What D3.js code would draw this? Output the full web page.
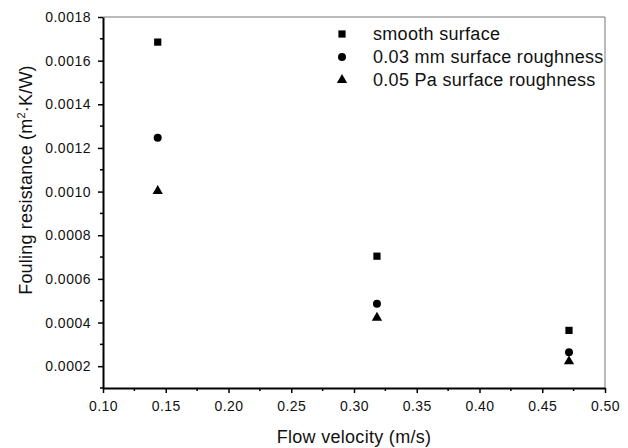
<!DOCTYPE html>
<html>
<head>
<meta charset="utf-8">
<script src="https://cdn.jsdelivr.net/npm/d3@7"></script>
<style>
  body { margin: 0; background: #fff; }
  text { font-family: "Liberation Sans", Arial, sans-serif; fill: #111; }
</style>
</head>
<body>
<script>
// flow velocity (m/s) for the three test runs
var velocity = [0.1436, 0.3183, 0.4713];

// fouling resistance (m2·K/W) per surface
var smooth = [0.001685, 0.000704, 0.000364];
var rough003 = [0.001247, 0.000486, 0.000264];
var rough005 = [0.001003, 0.000422, 0.000222];

var seriesNames = ["smooth surface", "0.03 mm surface roughness", "0.05 Pa surface roughness"];
var seriesSymbols = [d3.symbolSquare, d3.symbolCircle, d3.symbolTriangle];

var xTicks = [0.10, 0.15, 0.20, 0.25, 0.30, 0.35, 0.40, 0.45, 0.50];
var yTicks = [0.0002, 0.0004, 0.0006, 0.0008, 0.0010, 0.0012, 0.0014, 0.0016, 0.0018];

var width = 628, height = 448;
var margin = {top: 17, right: 23, bottom: 60, left: 103};

var svg = d3.select('body').append('svg')
    .attr('width', width)
    .attr('height', height);

var x = d3.scaleLinear().domain([0.10, 0.50]).range([margin.left, width - margin.right]);
var y = d3.scaleLinear().domain([0.0001, 0.0018]).range([height - margin.bottom, margin.top]);

// frame: top and right thin grey lines
svg.append('path')
    .attr('d', 'M' + x(0.10) + ',' + y(0.0018) + 'H' + x(0.50) + 'V' + y(0.0001))
    .attr('fill', 'none')
    .attr('stroke', '#777')
    .attr('stroke-width', 1);

// minor ticks
var xMinor = d3.range(0.125, 0.5, 0.05);
var yMinor = d3.range(0.0001, 0.0018, 0.0002);

var xAxis = svg.append('g')
    .attr('transform', 'translate(0,' + y(0.0001) + ')');
xAxis.selectAll('line.minor').data(xMinor).enter().append('line')
    .attr('x1', function(d) { return x(d); })
    .attr('x2', function(d) { return x(d); })
    .attr('y1', 0).attr('y2', 3)
    .attr('stroke', '#000').attr('stroke-width', 1.5);
xAxis.call(d3.axisBottom(x).tickValues(xTicks).tickFormat(d3.format('.2f')).tickSizeInner(5).tickSizeOuter(0).tickPadding(8));

var yAxis = svg.append('g')
    .attr('transform', 'translate(' + x(0.10) + ',0)');
yAxis.selectAll('line.minor').data(yMinor).enter().append('line')
    .attr('y1', function(d) { return y(d); })
    .attr('y2', function(d) { return y(d); })
    .attr('x1', 0).attr('x2', -3)
    .attr('stroke', '#000').attr('stroke-width', 1.5);
yAxis.call(d3.axisLeft(y).tickValues(yTicks).tickFormat(d3.format('.4f')).tickSizeInner(5).tickSizeOuter(0).tickPadding(7));

svg.selectAll('.domain').attr('stroke', '#000').attr('stroke-width', 2);
svg.selectAll('.tick line').attr('stroke', '#000').attr('stroke-width', 1.5);
svg.selectAll('.tick text')
    .attr('font-family', '"Liberation Sans", Arial, sans-serif')
    .style('font-size', '14px')
    .style('letter-spacing', '0.5px')
    .attr('fill', '#222');

// points
var allSeries = [smooth, rough003, rough005];
var sizes = [52, 50, 46];
allSeries.forEach(function(vals, i) {
  svg.append('g').selectAll('path')
      .data(vals).enter().append('path')
      .attr('transform', function(d, j) { return 'translate(' + x(velocity[j]) + ',' + y(d) + ')'; })
      .attr('d', d3.symbol().type(seriesSymbols[i]).size(sizes[i]))
      .attr('fill', '#000');
});

// legend
var legend = svg.append('g').attr('transform', 'translate(342,34)');
seriesNames.forEach(function(name, i) {
  var row = legend.append('g').attr('transform', 'translate(0,' + (i * 23) + ')');
  row.append('path')
      .attr('d', d3.symbol().type(seriesSymbols[i]).size(sizes[i]))
      .attr('fill', '#000');
  row.append('text')
      .attr('x', 31).attr('y', 6)
      .style('font-size', '18px')
      .style('letter-spacing', '0.3px')
      .text(name);
});

// axis titles
svg.append('text')
    .attr('x', (x(0.10) + x(0.50)) / 2)
    .attr('y', 443)
    .attr('text-anchor', 'middle')
    .style('font-size', '18px')
    .style('letter-spacing', '0.3px')
    .text('Flow velocity (m/s)');

var yt = svg.append('text')
    .attr('transform', 'translate(32,180) rotate(-90)')
    .attr('text-anchor', 'middle')
    .style('font-size', '18px')
    .style('letter-spacing', '0.2px');
yt.append('tspan').text('Fouling resistance (m');
yt.append('tspan').attr('dy', -7).style('font-size', '11px').text('2');
yt.append('tspan').attr('dy', 7).text('\u00b7K/W)');
</script>
</body>
</html>
